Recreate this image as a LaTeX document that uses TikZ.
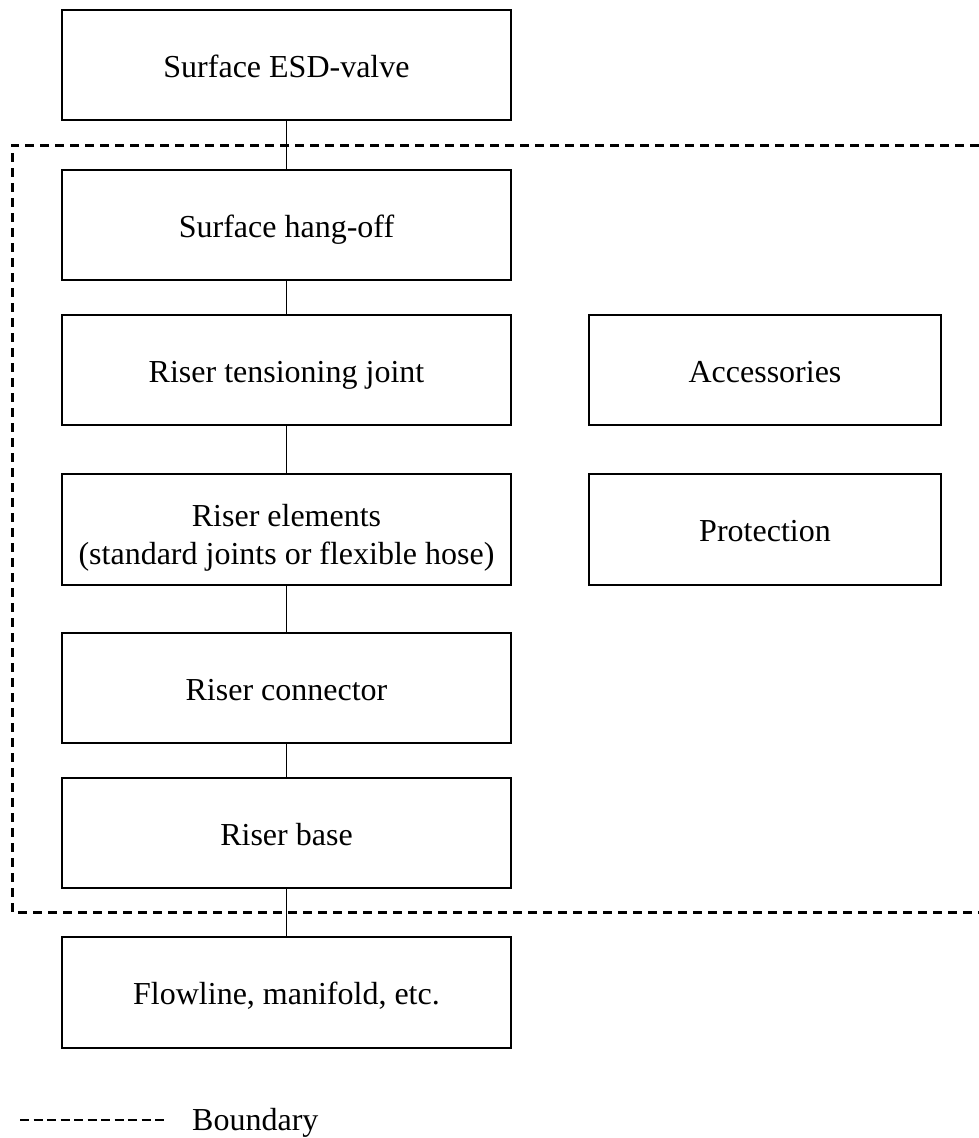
\documentclass[tikz,border=0pt]{standalone}
\usepackage{fontspec}
\setmainfont{Liberation Serif}
\begin{document}
\begin{tikzpicture}[x=1pt,y=-1pt,
  blk/.style={draw=black,line width=2pt,rectangle,inner sep=0pt,align=center,
    font=\fontsize{32}{38}\selectfont,text height=24pt,text depth=0pt},
  wide/.style={blk,minimum width=449pt,minimum height=110pt},
  side/.style={blk,minimum width=352pt,minimum height=110pt},
  conn/.style={draw=black,line width=1.6pt},
  bnd/.style={draw=black,line width=3pt,dash pattern=on 9pt off 6pt}]
\useasboundingbox (0,0) rectangle (979,1138);
% main chain, left column
\node[wide] (esd)  at (286.5,65)  {Surface ESD-valve};
\node[wide] (hang) at (286.5,225) {Surface hang-off};
\node[wide] (tens) at (286.5,370) {Riser tensioning joint};
\node[wide,minimum height=111pt,text height=70pt,text depth=0pt] (elem) at (286.5,529)
  {Riser elements\\(standard joints or flexible hose)};
\node[wide] (conn) at (286.5,688) {Riser connector};
\node[wide] (base) at (286.5,833) {Riser base};
\node[wide,minimum height=111pt] (flow) at (286.5,992.5) {Flowline, manifold, etc.};
% side items
\node[side] (acc)  at (765,370) {Accessories};
\node[side,minimum height=111pt] (prot) at (765,529) {Protection};
% connectors
\draw[conn] (esd.south) -- (hang.north);
\draw[conn] (hang.south) -- (tens.north);
\draw[conn] (tens.south) -- (elem.north);
\draw[conn] (elem.south) -- (conn.north);
\draw[conn] (conn.south) -- (base.north);
\draw[conn] (base.south) -- (flow.north);
% system boundary, open to the right
\coordinate (btr) at (979,145);
\coordinate (btl) at (12,145);
\coordinate (bbl) at (12,912);
\coordinate (bbr) at (979,912);
\draw[bnd] (btr) -- (btl) -- (bbl) -- (bbr);
% legend
\coordinate (lga) at (20,1120);
\coordinate (lgb) at (166,1120);
\draw[line width=2.6pt,dash pattern=on 9pt off 4.5pt] (lga) -- (lgb);
\node[anchor=base west,inner sep=0pt,font=\fontsize{32}{38}\selectfont] (lgt) at (192,1130) {Boundary};
\end{tikzpicture}
\end{document}
